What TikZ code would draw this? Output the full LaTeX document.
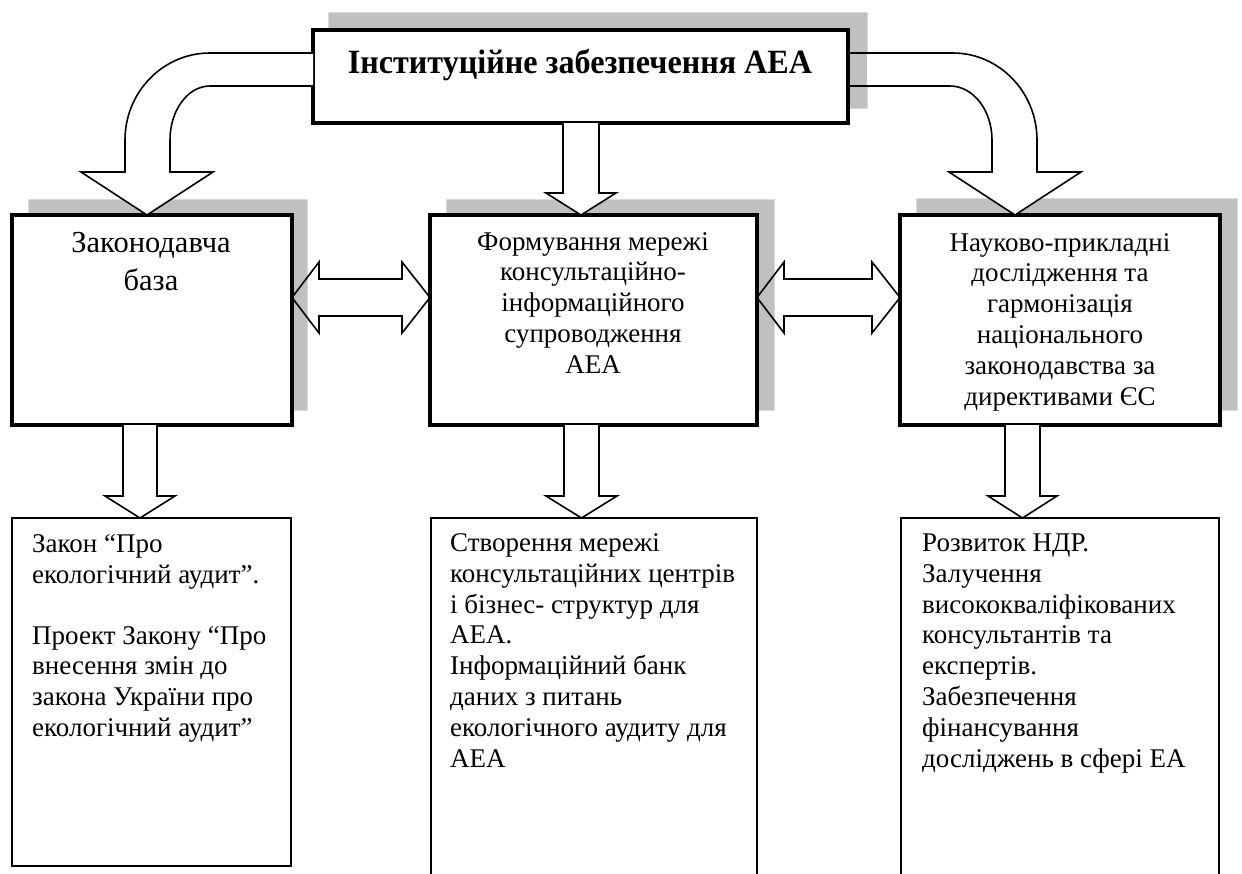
\documentclass[tikz,border=0pt]{standalone}
\usepackage{fontspec}
\usepackage{graphicx}
\setmainfont{Liberation Serif}
\usetikzlibrary{calc}
\definecolor{shadowgray}{HTML}{C0C0C0}
\definecolor{shadowedge}{HTML}{DADADA}
\tikzset{
  shadowbox/.style={fill=shadowgray, draw=shadowedge, line width=0.8pt, anchor=north west, inner sep=0pt, outer sep=0pt},
  mainbox/.style={draw=black, fill=white, line width=4pt, anchor=north west, inner sep=0pt, outer sep=0pt},
  leafbox/.style={draw=black, fill=white, line width=1.8pt, anchor=north west, inner sep=0pt, outer sep=0pt},
  blockarrow/.style={draw=black, fill=white, line width=1.6pt, line join=miter},
  titletext/.style={font=\fontsize{34}{40}\selectfont\bfseries, anchor=base, inner sep=0pt},
  bigtext/.style={font=\fontsize{30.5}{38}\selectfont, align=center, anchor=base, inner sep=0pt},
  midtext/.style={font=\fontsize{27}{30.8}\selectfont, align=center, anchor=base, inner sep=0pt},
  leaftext/.style={font=\fontsize{27}{30.8}\selectfont, align=left, anchor=base west, inner sep=0pt}
}
% down block arrow: #1 = x of tip (px), #2 = source node, #3 = target node, #4 shaft half, #5 head half, #6 head length
\newcommand\downblock[6]{%
  \draw[blockarrow] let \p1=(#2.south), \p2=(#3.north) in
    (#1pt-#4pt,\y1) -- (#1pt-#4pt,\y2+#6pt) -- (#1pt-#5pt,\y2+#6pt) -- (#1pt,\y2)
    -- (#1pt+#5pt,\y2+#6pt) -- (#1pt+#4pt,\y2+#6pt) -- (#1pt+#4pt,\y1);}
% horizontal double block arrow between two nodes at canvas y = #3 (px)
\newcommand\dblblock[3]{%
  \draw[blockarrow, fill=none] let \p1=(#1.east), \p2=(#2.west) in
    (\x1,-#3pt) -- (\x1+27pt,-#3pt+35.5pt) -- (\x1+27pt,-#3pt+18.5pt) -- (\x2-28pt,-#3pt+18.5pt)
    -- (\x2-28pt,-#3pt+35.5pt) -- (\x2,-#3pt) -- (\x2-28pt,-#3pt-35.5pt) -- (\x2-28pt,-#3pt-18.5pt)
    -- (\x1+27pt,-#3pt-18.5pt) -- (\x1+27pt,-#3pt-35.5pt) -- cycle;}
\begin{document}
\begin{tikzpicture}[x=1pt, y=-1pt]
\useasboundingbox (0,0) rectangle (1242,873);
\clip (0,0) rectangle (1242,873);

% shadows
\node[shadowbox, minimum width=539pt, minimum height=96pt] (tops) at (328,12) {};
\node[shadowbox, minimum width=279pt, minimum height=211pt] (lbs) at (28,199) {};
\node[shadowbox, minimum width=328pt, minimum height=211pt] (mbs) at (446,199) {};
\node[shadowbox, minimum width=321pt, minimum height=212pt] (rbs) at (916,198) {};

% main boxes
\node[mainbox, minimum width=535pt, minimum height=93pt] (top) at (313,30) {};
\node[mainbox, minimum width=280pt, minimum height=210pt] (lb) at (12,215) {};
\node[mainbox, minimum width=327pt, minimum height=210pt] (mb) at (430,215) {};
\node[mainbox, minimum width=320pt, minimum height=210pt] (rb) at (900,215) {};

% leaf boxes
\node[leafbox, minimum width=279pt, minimum height=348pt] (l1) at (12,518) {};
\node[leafbox, minimum width=326pt, minimum height=400pt] (l2) at (431,518) {};
\node[leafbox, minimum width=318pt, minimum height=400pt] (l3) at (901,518) {};

% curved arrow to the left
\draw[blockarrow] (top.west |- 0,53) -- (210,53) .. controls (163,53) and (125,92) .. (125,140)
  -- (125,172) -- (81,172) -- (147,215) -- (213,172) -- (170,172) -- (170,140)
  .. controls (170,110) and (188,86) .. (210,86) -- (top.west |- 0,86);

% curved arrow to the right (fill only outside the top shadow)
\begin{scope}
  \clip (867,0) rectangle (1242,873);
  \fill[white] (848,53) -- (953,53) .. controls (999,53) and (1037,92) .. (1037,140)
    -- (1037,172) -- (1081,172) -- (1015,215) -- (949,172) -- (992,172) -- (992,140)
    .. controls (992,110) and (973,86) .. (950,86) -- (848,86) -- cycle;
\end{scope}
\draw[blockarrow, fill=none] (top.east |- 0,53) -- (953,53) .. controls (999,53) and (1037,92) .. (1037,140)
  -- (1037,172) -- (1081,172) -- (1015,215) -- (949,172) -- (992,172) -- (992,140)
  .. controls (992,110) and (973,86) .. (950,86) -- (top.east |- 0,86);

% straight down arrows
\downblock{581}{top}{mb}{18}{35}{22}
\downblock{140}{lb}{l1}{17}{35}{22}
\downblock{581.5}{mb}{l2}{17.5}{35.5}{22}
\downblock{1022.5}{rb}{l3}{17.5}{34.5}{22}

% double arrows
\dblblock{lb}{mb}{297.5}
\dblblock{mb}{rb}{297.5}

% texts (base anchor = baseline of the last line)
\node[titletext] (ttl) at (580,73) {\scalebox{0.945}[1]{Інституційне забезпечення АЕА}};
\node[bigtext] (lbt) at (151,290) {Законодавча\\база};
\node[midtext] (mbt) at (593,373.2) {Формування мережі\\консультаційно-\\інформаційного\\супроводження\\АЕА};
\node[midtext] (rbt) at (1060,405) {Науково-прикладні\\дослідження та\\гармонізація\\національного\\законодавства за\\директивами ЄС};

\node[leaftext] (l1t) at (32,736.5) {Закон “Про\\екологічний аудит”.\\[30pt]Проект Закону “Про\\внесення змін до\\закона України про\\екологічний аудит”};
\node[leaftext] (l2t) at (450,767) {Створення мережі\\консультаційних центрів\\і бізнес- структур для\\АЕА.\\Інформаційний банк\\даних з питань\\екологічного аудиту для\\АЕА};
\node[leaftext] (l3t) at (922,767) {Розвиток НДР.\\Залучення\\висококваліфікованих\\консультантів та\\експертів.\\Забезпечення\\фінансування\\досліджень в сфері ЕА};
\end{tikzpicture}
\end{document}
